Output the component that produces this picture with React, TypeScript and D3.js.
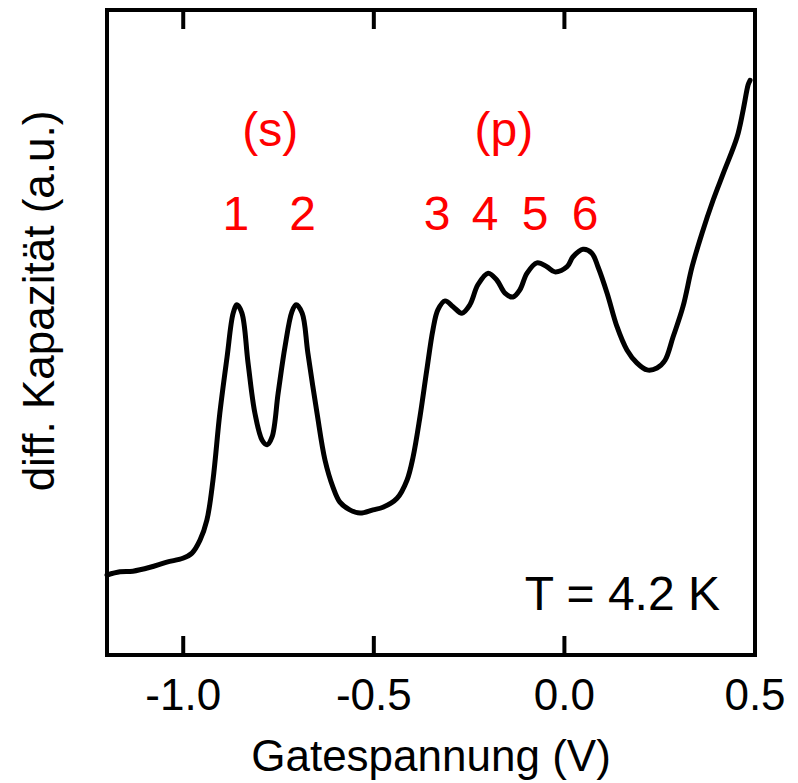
import React from "react";
import * as d3 from "d3";

// Gate voltage (V)
const voltage: number[] = [
  -1.2, -1.166, -1.132, -1.087, -1.043, -1.001, -0.977, -0.956, -0.938, -0.922,
  -0.904, -0.885, -0.869, -0.859, -0.846, -0.83, -0.812, -0.793, -0.78, -0.767,
  -0.751, -0.733, -0.715, -0.704, -0.688, -0.673, -0.649, -0.628, -0.607, -0.589,
  -0.563, -0.536, -0.502, -0.476, -0.439, -0.413, -0.397, -0.379, -0.361, -0.345,
  -0.332, -0.313, -0.292, -0.269, -0.248, -0.227, -0.2, -0.177, -0.156, -0.135,
  -0.117, -0.098, -0.072, -0.046, -0.025, 0.007, 0.022, 0.049, 0.072, 0.088,
  0.112, 0.138, 0.164, 0.19, 0.217, 0.243, 0.264, 0.285, 0.311, 0.335,
  0.361, 0.39, 0.417, 0.453, 0.469, 0.482, 0.487,
];

// Differential capacitance (a.u.)
const capacitance: number[] = [
  12.4, 12.9, 13.0, 13.6, 14.4, 15.0, 15.8, 17.8, 20.9, 27.1,
  37.5, 46.2, 53.0, 54.3, 53.0, 45.3, 37.5, 33.3, 32.6, 33.8,
  40.6, 47.8, 53.2, 54.3, 53.0, 46.8, 37.5, 30.2, 26.0, 23.7,
  22.5, 22.0, 22.5, 22.9, 24.3, 27.1, 30.7, 36.9, 44.2, 50.4,
  53.5, 54.9, 54.0, 53.0, 54.3, 57.4, 59.2, 58.1, 56.1, 55.5,
  56.6, 59.2, 60.8, 60.2, 59.4, 60.2, 61.7, 62.9, 62.3, 60.2,
  56.1, 50.9, 47.3, 45.3, 44.2, 44.5, 45.7, 49.3, 54.0, 60.2,
  65.4, 70.5, 74.7, 80.3, 84.5, 88.4, 89.1,
];

const xTicks: number[] = [-1.0, -0.5, 0.0, 0.5];
const xTickLabels: string[] = ["-1.0", "-0.5", "0.0", "0.5"];

// Peak annotations
const groupLabels: string[] = ["(s)", "(p)"];
const groupPos: number[] = [-0.772, -0.159];
const peakLabels: string[] = ["1", "2", "3", "4", "5", "6"];
const peakPos: number[] = [-0.862, -0.687, -0.334, -0.208, -0.077, 0.054];

const W = 798;
const H = 783;
const L = 107;
const R = 755;
const T = 10;
const B = 655;
const FONT = "Arial, 'Liberation Sans', Helvetica, sans-serif";

export default function App() {
  const x = d3.scaleLinear().domain([-1.2, 0.5]).range([L, R]);
  const y = d3.scaleLinear().domain([0, 100]).range([B, T]);
  const pts = voltage.map((v, i) => [v, capacitance[i]] as [number, number]);
  const line = d3
    .line<[number, number]>()
    .x((d) => x(d[0]))
    .y((d) => y(d[1]))
    .curve(d3.curveCatmullRom.alpha(0.5));
  const tickLen = 19;

  return (
    <svg
      width={W}
      height={H}
      style={{ position: "absolute", left: 0, top: 0, display: "block", background: "#fff" }}
      fontFamily={FONT}
    >
      <rect x={0} y={0} width={W} height={H} fill="#fff" />
      <path d={line(pts) || ""} fill="none" stroke="#000" strokeWidth={5} strokeLinejoin="round" strokeLinecap="round" />
      {xTicks.map((t, i) => (
        <g key={"t" + i}>
          <line x1={x(t)} x2={x(t)} y1={B} y2={B - tickLen} stroke="#000" strokeWidth={4} />
          <line x1={x(t)} x2={x(t)} y1={T} y2={T + tickLen} stroke="#000" strokeWidth={4} />
          <text x={x(t)} y={710} fontSize={44} textAnchor="middle" fill="#000">
            {xTickLabels[i]}
          </text>
        </g>
      ))}
      <rect x={L} y={T} width={R - L} height={B - T} fill="none" stroke="#000" strokeWidth={4} />
      <text x={(L + R) / 2} y={771} fontSize={44} textAnchor="middle" fill="#000">
        Gatespannung (V)
      </text>
      <text
        transform={`translate(54,301) rotate(-90)`}
        fontSize={44}
        textAnchor="middle"
        fill="#000"
      >
        diff. Kapazität (a.u.)
      </text>
      {groupLabels.map((g, i) => (
        <text key={"g" + i} x={x(groupPos[i])} y={146} fontSize={48} textAnchor="middle" fill="#ff0000">
          {g}
        </text>
      ))}
      {peakLabels.map((p, i) => (
        <text key={"p" + i} x={x(peakPos[i])} y={230} fontSize={48} textAnchor="middle" fill="#ff0000">
          {p}
        </text>
      ))}
      <text x={720} y={610} fontSize={48} textAnchor="end" fill="#000">
        T = 4.2 K
      </text>
    </svg>
  );
}
